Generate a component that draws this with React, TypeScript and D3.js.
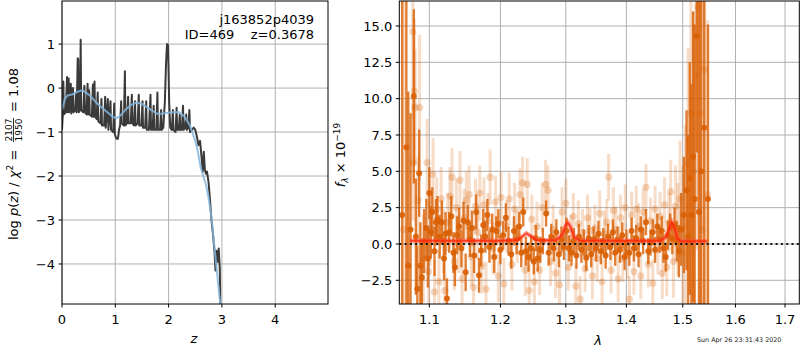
import React from "react";
import * as d3 from "d3";

// ---------- Left panel: p(z) ----------
const pzZ = [0.00,0.015,0.025,0.035,0.07,0.095,0.105,0.125,0.135,0.165,0.175,0.205,0.215,0.25,0.265,0.275,0.295,0.305,0.315,0.34,0.35,0.36,0.40,0.42,0.43,0.46,0.48,0.49,0.51,0.52,0.56,0.58,0.59,0.61,0.62,0.65,0.67,0.68,0.72,0.74,0.75,0.79,0.81,0.82,0.86,0.87,0.91,0.92,0.96,0.98,0.99,1.02,1.05,1.07,1.09,1.11,1.12,1.16,1.18,1.19,1.22,1.24,1.25,1.29,1.31,1.32,1.35,1.37,1.38,1.42,1.44,1.45,1.49,1.51,1.52,1.56,1.58,1.59,1.63,1.66,1.67,1.70,1.72,1.73,1.77,1.79,1.80,1.84,1.86,1.87,1.90,1.93,1.95,1.97,1.99,2.01,2.03,2.06,2.08,2.09,2.13,2.15,2.16,2.19,2.21,2.22,2.25,2.27,2.28,2.31,2.33,2.34,2.37,2.39,2.40,2.44,2.47,2.50,2.53,2.56,2.59,2.62,2.64,2.66,2.68,2.70,2.72,2.75,2.78,2.80,2.83,2.86,2.88,2.90,2.92,2.94,2.96,2.97];
const pzLog = [-0.95,-0.6,0.15,-0.6,-0.55,0.25,-0.55,0.22,-0.55,0.1,-0.58,0.0,-0.55,-0.5,-0.1,-0.55,0.68,0.65,-0.55,-0.5,1.1,-0.5,-0.55,0.05,-0.55,-0.6,0.1,-0.6,-0.05,-0.6,-0.65,0.08,-0.65,0.15,-0.65,-0.7,-0.1,-0.75,-0.8,-0.25,-0.85,-0.85,-0.2,-0.9,-0.25,-0.95,-0.3,-0.95,-1.0,-0.35,-1.05,-1.15,-1.15,-0.95,-0.85,-0.3,-0.8,-0.85,0.38,-0.85,-0.8,-0.2,-0.8,-0.8,-0.15,-0.8,-0.85,-0.3,-0.85,-0.8,-0.15,-0.85,-0.85,-0.3,-0.9,-0.9,-0.3,-0.95,-0.95,-0.15,-0.95,-0.95,-0.4,-0.95,-0.95,-0.1,-0.95,-0.95,-0.5,-0.95,-0.9,-0.3,0.5,1.0,0.97,-0.3,-0.9,-0.95,-0.5,-0.95,-1.0,-0.45,-0.95,-0.95,-0.6,-0.95,-0.95,-0.4,-0.95,-0.9,-0.6,-0.95,-0.9,-0.5,-1.0,-0.95,-0.9,-0.95,-1.1,-1.3,-1.2,-1.6,-1.9,-1.45,-1.85,-1.95,-1.9,-2.15,-2.6,-2.95,-3.3,-3.7,-4.15,-3.7,-3.95,-3.65,-4.1,-4.95];

const priorZ = [0.00,0.05,0.10,0.20,0.30,0.38,0.45,0.55,0.65,0.75,0.85,0.95,1.02,1.10,1.20,1.30,1.40,1.50,1.60,1.70,1.80,1.90,2.00,2.10,2.20,2.30,2.40,2.50,2.55,2.60,2.65,2.70,2.75,2.80,2.85,2.90,2.95,2.98];
const priorLog = [-0.5,-0.25,-0.17,-0.14,-0.08,-0.05,-0.1,-0.2,-0.34,-0.45,-0.55,-0.65,-0.69,-0.62,-0.48,-0.38,-0.33,-0.36,-0.44,-0.52,-0.59,-0.58,-0.56,-0.55,-0.55,-0.65,-0.85,-1.2,-1.45,-1.8,-2.0,-2.2,-2.5,-2.9,-3.5,-4.1,-4.7,-5.0];

const leftXTicks = [0, 1, 2, 3, 4];
const leftYTicks = [-4, -3, -2, -1, 0, 1];

// ---------- Right panel: spectrum ----------
const specLam = [1.064,1.0695,1.072,1.075,1.0793,1.082,1.084,1.0864,1.088,1.090,1.093,1.096,1.098,1.100,1.102,1.104,1.107,1.109,1.111,1.114,1.117,1.120,1.122,1.124,1.127,1.130,1.133,1.135,1.138,1.141,1.144,1.147,1.150,1.153,1.156,1.159,1.162,1.165,1.169,1.172,1.175,1.178,1.181,1.184,1.188,1.191,1.194,1.197,1.200,1.204,1.208,1.212,1.216,1.220,1.224,1.228,1.231,1.234,1.238,1.242,1.246,1.250,1.253,1.256,1.260,1.264,1.269,1.273,1.277,1.281,1.285,1.289,1.293,1.297,1.301,1.305,1.309,1.313,1.317,1.321,1.325,1.329,1.333,1.337,1.341,1.345,1.349,1.353,1.357,1.361,1.365,1.369,1.373,1.377,1.381,1.385,1.389,1.393,1.397,1.400,1.405,1.409,1.413,1.417,1.421,1.425,1.429,1.434,1.438,1.442,1.446,1.450,1.454,1.458,1.462,1.465,1.469,1.473,1.477,1.481,1.485,1.489,1.493,1.497,1.502,1.507,1.510,1.513,1.516,1.519,1.522,1.526,1.530,1.534,1.540,1.547];
const specFlux = [2.0,6.65,-1.5,1.0,10.16,0.5,-3.1,4.87,-1.5,-2.3,0.2,1.1,-1.0,3.5,0.8,2.2,-0.5,1.5,1.7,0.5,1.5,-1.0,0.7,-3.75,0.8,1.9,-0.6,-1.6,0.6,1.2,-0.3,1.6,-1.95,1.5,0.3,1.1,-0.8,2.2,-2.15,-0.45,1.3,0.5,2.0,-0.2,1.0,-0.9,0.9,1.4,-0.4,0.6,1.8,0.2,-0.7,0.9,0.3,1.2,-0.6,2.2,-0.5,-0.9,-0.3,-1.2,0.4,-1.0,-0.4,0.2,2.1,-0.6,0.5,-0.3,0.8,-0.7,0.3,-0.2,0.9,-0.3,-0.6,0.2,-0.8,0.5,-0.4,0.1,-0.95,0.4,-0.7,0.3,-0.3,0.7,-0.5,0.2,-0.8,0.5,-0.2,0.8,-0.6,0.3,-0.4,0.6,-0.9,0.1,-0.6,0.9,-0.3,0.4,-0.7,1.0,0.2,1.5,-0.5,0.1,0.8,-0.4,1.2,0.3,0.9,-0.3,-0.9,0.6,1.1,0.4,1.3,0.2,-0.5,1.0,2.0,3.7,0.5,4.5,2.0,6.0,3.1,14.3,2.2,5.0,8.0,3.1];
const specErr = [30,25,12,8,6,4,3,3,3,2.5,2.2,2.0,2.0,1.8,1.8,1.7,1.7,1.6,1.6,1.5,1.5,1.5,1.5,1.4,1.4,1.4,1.4,1.3,1.3,1.3,1.3,1.3,1.3,1.2,1.2,1.2,1.2,1.2,1.2,1.1,1.1,1.1,1.1,1.1,1.1,1.1,1.0,1.0,1.0,1.0,1.0,1.0,1.0,1.0,1.0,1.0,1.0,1.0,1.0,1.0,0.9,0.9,0.9,0.9,0.9,0.9,0.9,0.9,0.9,0.9,0.9,0.9,0.9,0.9,0.9,0.9,0.9,0.9,0.9,0.9,0.9,0.9,0.9,0.9,0.9,0.9,0.9,0.9,0.9,0.9,0.9,0.9,0.9,0.9,0.9,0.9,0.9,0.9,0.9,0.9,0.9,0.9,0.9,0.9,0.9,0.9,0.9,0.9,0.9,0.9,0.9,0.9,0.9,0.9,1.0,1.0,1.0,1.0,1.0,1.1,1.2,1.4,1.8,2.5,4,5.5,7,8,9,10,12,8,18,20,25,12];

const bgLam = [1.066,1.078,1.080,1.081,1.087,1.0785,1.085,1.092,1.097,1.099,1.101,1.105,1.107,1.110,1.113,1.116,1.119,1.121,1.125,1.128,1.131,1.134,1.137,1.140,1.142,1.145,1.148,1.151,1.155,1.158,1.161,1.164,1.167,1.170,1.173,1.176,1.179,1.182,1.185,1.189,1.193,1.197,1.201,1.205,1.209,1.213,1.217,1.221,1.225,1.229,1.233,1.237,1.240,1.243,1.247,1.251,1.255,1.259,1.263,1.268,1.272,1.276,1.280,1.284,1.290,1.294,1.300,1.304,1.308,1.312,1.316,1.320,1.323,1.327,1.331,1.335,1.339,1.343,1.347,1.351,1.355,1.359,1.363,1.367,1.370,1.374,1.378,1.382,1.386,1.390,1.394,1.398,1.402,1.405,1.409,1.413,1.417,1.421,1.425,1.429,1.434,1.438,1.442,1.446,1.450,1.455,1.459,1.463,1.467,1.471,1.475,1.478,1.483,1.487,1.491,1.495,1.500,1.505,1.510,1.515,1.520,1.525,1.528,1.532,1.536,1.540,1.546];
const bgFlux = [1.0,14.6,10.5,9.4,9.4,5.6,3.0,-1.0,5.6,-1.9,1.0,4.8,-3.3,2.4,-2.6,3.1,0.2,-3.2,1.5,3.3,4.6,-1.2,2.5,0.0,4.4,-2.4,1.8,3.0,3.4,-0.9,-3.0,2.6,0.8,3.5,-1.5,2.7,-3.1,1.6,4.6,-0.3,2.9,-2.2,3.2,-2.75,1.2,3.1,-1.4,2.4,0.5,3.4,4.2,-1.8,4.1,-3.2,1.7,-2.6,1.2,-1.8,2.5,4.1,3.7,-1.2,1.0,-2.0,-2.8,2.2,2.8,-1.6,0.4,1.9,-2.9,1.4,-3.8,0.8,-1.7,1.8,0.9,-2.2,1.1,-1.0,2.1,-2.6,0.7,1.5,4.6,-1.8,2.3,1.0,-2.4,1.8,-1.0,2.5,-0.8,-3.8,2.0,-1.9,2.4,1.2,-2.2,2.2,3.9,-1.4,1.6,-2.7,2.4,-0.4,1.9,-2.0,2.7,-1.6,1.5,3.6,-1.2,2.6,1.0,3.1,-0.6,1.2,5.5,9.0,5.0,11.6,16.3,9.0,1.0,12.0,3.4];
const bgErr = [30,6,5,4,5,4,3,3,3,2.5,2.5,2.5,2.2,2.2,2.2,2.2,2.2,2.2,2.0,2.0,2.0,2.0,2.0,2.0,2.0,2.0,2.0,2.0,2.0,2.0,1.9,1.9,1.9,1.9,1.9,1.9,1.9,1.9,1.9,1.8,1.8,1.8,1.8,1.8,1.8,1.8,1.8,1.8,1.8,1.8,1.8,1.8,1.8,1.8,1.7,1.7,1.7,1.7,1.7,1.7,1.7,1.7,1.7,1.7,1.7,1.7,1.7,1.6,1.6,1.6,1.6,1.6,1.6,1.6,1.6,1.6,1.6,1.6,1.6,1.6,1.6,1.6,1.6,1.6,1.6,1.6,1.6,1.6,1.6,1.6,1.6,1.6,1.6,1.6,1.6,1.6,1.6,1.6,1.6,1.6,1.6,1.6,1.6,1.6,1.6,1.7,1.7,1.8,1.9,2.0,2.0,2.2,2.5,2.8,3.2,4,6,7,8,9,11,12,14,15,16,20,12];

const modelLam = [1.074,1.200,1.225,1.235,1.239,1.245,1.255,1.285,1.295,1.300,1.303,1.307,1.313,1.322,1.460,1.470,1.476,1.480,1.485,1.490,1.497,1.545];
const modelFlux = [0.23,0.23,0.28,0.6,0.74,0.55,0.25,0.25,0.7,1.3,1.47,1.2,0.5,0.24,0.22,0.5,1.1,1.5,1.1,0.4,0.18,0.18];

const rightXTicks = [1.1, 1.2, 1.3, 1.4, 1.5, 1.6, 1.7];
const rightYTicks = [-2.5, 0, 2.5, 5, 7.5, 10, 12.5, 15];

const FONT = "DejaVu Sans, sans-serif";
const minus = (s: string) => s.replace("-", "\u2212");

export default function App() {
  const L = { x0: 62, x1: 328, y0: 1, y1: 304 };
  const R = { x0: 399.3, x1: 799.3, y0: 1, y1: 304 };

  const lx = d3.scaleLinear().domain([0, 4.99]).range([L.x0, L.x1]);
  const ly = d3.scaleLinear().domain([-4.91, 1.98]).range([L.y1, L.y0]);
  const rx = d3.scaleLog().domain([1.0603, 1.73]).range([R.x0, R.x1]);
  const ry = d3.scaleLinear().domain([-4.13, 16.72]).range([R.y1, R.y0]);

  const pzLine = d3.line<number>().x((_, i) => lx(pzZ[i])).y((d) => ly(d));
  const priorLine = d3.line<number>().x((_, i) => lx(priorZ[i])).y((d) => ly(d));
  const modelLine = d3.line<number>().x((_, i) => rx(modelLam[i])).y((d) => ry(d));

  const orange = "#d95f02";
  const grid = "#b0b0b0";

  return (
    <svg width={800} height={350} style={{ display: "block", position: "absolute", left: 0, top: 0 }} fontFamily={FONT}>
      <rect x={0} y={0} width={800} height={350} fill="white" />
      <defs>
        <clipPath id="clipL"><rect x={L.x0} y={L.y0} width={L.x1 - L.x0} height={L.y1 - L.y0} /></clipPath>
        <clipPath id="clipR"><rect x={R.x0} y={R.y0} width={R.x1 - R.x0} height={R.y1 - R.y0} /></clipPath>
      </defs>

      {/* ---------- Left panel ---------- */}
      <g>
        {leftXTicks.map((t) => (
          <line key={"lgx" + t} x1={lx(t)} x2={lx(t)} y1={L.y0} y2={L.y1} stroke={grid} strokeWidth={1} />
        ))}
        {leftYTicks.map((t) => (
          <line key={"lgy" + t} x1={L.x0} x2={L.x1} y1={ly(t)} y2={ly(t)} stroke={grid} strokeWidth={1} />
        ))}
        <g clipPath="url(#clipL)">
          <path d={pzLine(pzLog) || ""} fill="none" stroke="#3a3a3a" strokeWidth={2} strokeLinejoin="round" />
          <path d={priorLine(priorLog) || ""} fill="none" stroke="#84b6de" strokeOpacity={0.85} strokeWidth={2} />
        </g>
        <rect x={L.x0} y={L.y0} width={L.x1 - L.x0} height={L.y1 - L.y0} fill="none" stroke="black" strokeWidth={1} />
        {leftXTicks.map((t) => (
          <g key={"ltx" + t}>
            <line x1={lx(t)} x2={lx(t)} y1={L.y1} y2={L.y1 + 3.5} stroke="black" />
            <text x={lx(t)} y={L.y1 + 20} fontSize={13} textAnchor="middle">{t}</text>
          </g>
        ))}
        {leftYTicks.map((t) => (
          <g key={"lty" + t}>
            <line x1={L.x0 - 3.5} x2={L.x0} y1={ly(t)} y2={ly(t)} stroke="black" />
            <text x={L.x0 - 7} y={ly(t) + 4.7} fontSize={13} textAnchor="end">{minus(String(t))}</text>
          </g>
        ))}
        <text x={194} y={343} fontSize={13} fontStyle="italic" textAnchor="middle">z</text>
        <text x={314} y={24} fontSize={13} textAnchor="end">j163852p4039</text>
        <text x={314} y={39} fontSize={13} textAnchor="end" style={{ whiteSpace: "pre" }}>{"ID=469    z=0.3678"}</text>
        <g transform="translate(18,154) rotate(-90)" fontSize={13}>
          <text x={-86} y={0}>
            <tspan>log </tspan>
            <tspan fontStyle="italic">p</tspan>
            <tspan>(</tspan>
            <tspan fontStyle="italic">z</tspan>
            <tspan>) / </tspan>
            <tspan fontStyle="italic">χ</tspan>
            <tspan fontSize={9} dy={-5}>2</tspan>
            <tspan dy={5}> =</tspan>
          </text>
          <text x={24} y={-6.5} fontSize={9} textAnchor="middle">2107</text>
          <line x1={12} x2={36} y1={-4.5} y2={-4.5} stroke="black" strokeWidth={0.8} />
          <text x={24} y={3.5} fontSize={9} textAnchor="middle">1950</text>
          <text x={86} y={0} textAnchor="end">= 1.08</text>
        </g>
      </g>

      {/* ---------- Right panel ---------- */}
      <g>
        {rightXTicks.map((t) => (
          <line key={"rgx" + t} x1={rx(t)} x2={rx(t)} y1={R.y0} y2={R.y1} stroke={grid} strokeWidth={1} />
        ))}
        {rightYTicks.map((t) => (
          <line key={"rgy" + t} x1={R.x0} x2={R.x1} y1={ry(t)} y2={ry(t)} stroke={grid} strokeWidth={1} />
        ))}
        <g clipPath="url(#clipR)">
          {bgLam.map((l, i) => (
            <line key={"be" + i} x1={rx(l)} x2={rx(l)} y1={ry(bgFlux[i] - bgErr[i])} y2={ry(bgFlux[i] + bgErr[i])} stroke={orange} strokeOpacity={0.22} strokeWidth={3} />
          ))}
          {bgLam.map((l, i) => (
            <circle key={"bp" + i} cx={rx(l)} cy={ry(bgFlux[i])} r={3.6} fill={orange} fillOpacity={0.25} />
          ))}
          {specLam.map((l, i) => (
            <line key={"se" + i} x1={rx(l)} x2={rx(l)} y1={ry(specFlux[i] - specErr[i])} y2={ry(specFlux[i] + specErr[i])} stroke={orange} strokeOpacity={0.8} strokeWidth={2.4} />
          ))}
          {specLam.map((l, i) => (
            <circle key={"sp" + i} cx={rx(l)} cy={ry(specFlux[i])} r={3} fill={orange} fillOpacity={0.9} />
          ))}
          <path d={modelLine(modelFlux) || ""} fill="none" stroke="#ff4a3a" strokeOpacity={0.45} strokeWidth={4.5} />
          <path d={modelLine(modelFlux) || ""} fill="none" stroke="#ff2200" strokeOpacity={0.75} strokeWidth={2} />
          <line x1={R.x0} x2={R.x1} y1={ry(0)} y2={ry(0)} stroke="#111" strokeWidth={2} strokeDasharray="2,3.3" />
        </g>
        <rect x={R.x0} y={R.y0} width={R.x1 - R.x0} height={R.y1 - R.y0} fill="none" stroke="black" strokeWidth={1} />
        {rightXTicks.map((t) => (
          <g key={"rtx" + t}>
            <line x1={rx(t)} x2={rx(t)} y1={R.y1} y2={R.y1 + 3.5} stroke="black" />
            <text x={rx(t)} y={R.y1 + 20} fontSize={13} textAnchor="middle">{t.toFixed(1)}</text>
          </g>
        ))}
        {rightYTicks.map((t) => (
          <g key={"rty" + t}>
            <line x1={R.x0 - 3.5} x2={R.x0} y1={ry(t)} y2={ry(t)} stroke="black" />
            <text x={R.x0 - 7} y={ry(t) + 4.7} fontSize={13} textAnchor="end">{minus(t.toFixed(1))}</text>
          </g>
        ))}
        <text x={598} y={345} fontSize={13} fontStyle="italic" textAnchor="middle">λ</text>
        <g transform="translate(345,155) rotate(-90)" fontSize={13}>
          <text x={0} y={0} textAnchor="middle">
            <tspan fontStyle="italic">f</tspan>
            <tspan fontSize={9} dy={3} fontStyle="italic">λ</tspan>
            <tspan dy={-3}> × 10</tspan>
            <tspan fontSize={9} dy={-5}>−19</tspan>
          </text>
        </g>
        <text x={697} y={342} fontSize={6.4} fill="#222">Sun Apr 26 23:31:43 2020</text>
      </g>
    </svg>
  );
}
